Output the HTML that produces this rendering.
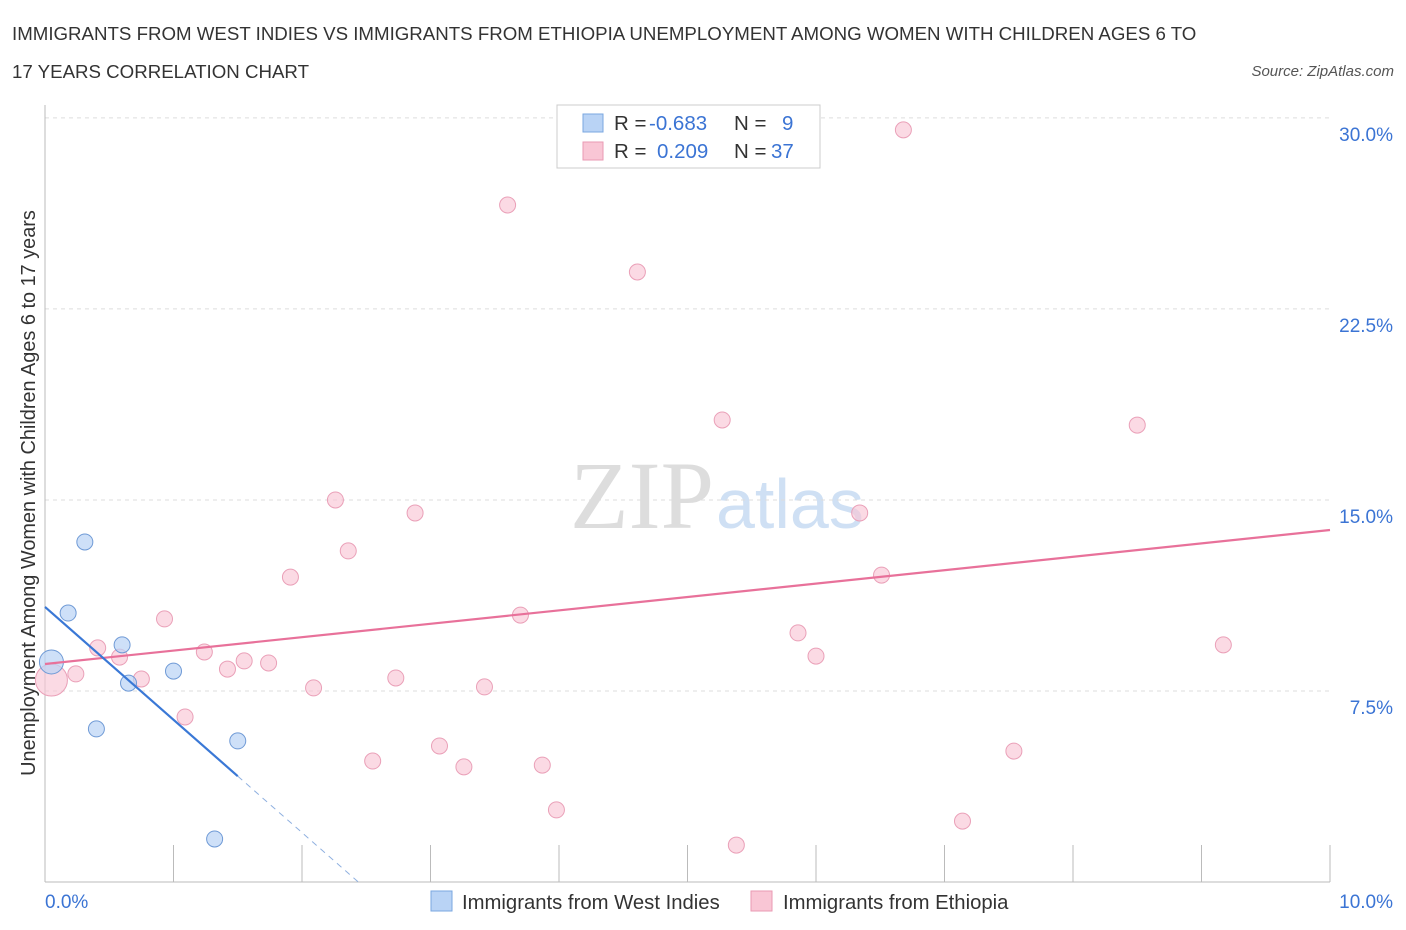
<!DOCTYPE html>
<html><head><meta charset="utf-8"><style>
body{margin:0;background:#fff;font-family:"Liberation Sans",sans-serif;}
svg{display:block}
</style></head><body>
<svg width="1406" height="930">
<text x="12" y="40" font-size="18.7" fill="#333">IMMIGRANTS FROM WEST INDIES VS IMMIGRANTS FROM ETHIOPIA UNEMPLOYMENT AMONG WOMEN WITH CHILDREN AGES 6 TO</text>
<text x="12" y="78" font-size="18.7" fill="#333">17 YEARS CORRELATION CHART</text>
<text x="1394" y="76" font-size="15" fill="#555" font-style="italic" text-anchor="end">Source: ZipAtlas.com</text>
<text x="35" y="493" font-size="19.9" fill="#333" text-anchor="middle" transform="rotate(-90 35 493)">Unemployment Among Women with Children Ages 6 to 17 years</text>
<text x="714" y="528" font-size="96" fill="#ddd" text-anchor="end" font-family="Liberation Serif,serif">ZIP</text>
<text x="716" y="528" font-size="70" fill="#cfe0f4">atlas</text>
<g id="grid"></g><g id="axes"></g><g id="marks"></g>
<g>
<rect x="557" y="105" width="263" height="63" fill="#fff" stroke="#ccc"/>
<rect x="583" y="114" width="20" height="18" fill="#b9d3f5" stroke="#7aa7e0"/>
<rect x="583" y="142" width="20" height="18" fill="#f9c6d5" stroke="#e99ab3"/>
<text x="614" y="130" font-size="20.5" fill="#333">R = <tspan x="649" fill="#3b74d4">-0.683</tspan><tspan x="734">N = </tspan><tspan x="782" fill="#3b74d4">9</tspan></text>
<text x="614" y="158" font-size="20.5" fill="#333">R = <tspan x="657" fill="#3b74d4">0.209</tspan><tspan x="734">N = </tspan><tspan x="771" fill="#3b74d4">37</tspan></text>
</g>
<g>
<rect x="431" y="891" width="21" height="20" fill="#b9d3f5" stroke="#7aa7e0"/>
<text x="462" y="909" font-size="20.3" fill="#333">Immigrants from West Indies</text>
<rect x="751" y="891" width="21" height="20" fill="#f9c6d5" stroke="#e99ab3"/>
<text x="783" y="909" font-size="20.3" fill="#333">Immigrants from Ethiopia</text>
</g>
</svg>
<script>
const blueX=[0.05,0.18,0.31,0.40,0.60,0.65,1.00,1.50,1.32];
const blueY=[8.64,10.56,13.35,6.01,9.31,7.81,8.28,5.54,1.69];
const pinkX=[0.05,0.24,0.41,0.58,0.75,0.93,1.09,1.24,1.42,1.55,1.74,1.91,2.09,2.26,2.36,2.55,2.73,2.88,3.07,3.26,3.42,3.60,3.70,3.87,3.98,4.61,5.27,5.38,5.86,6.00,6.34,6.51,6.68,7.14,7.54,8.50,9.17];
const pinkY=[7.93,8.17,9.19,8.83,7.97,10.33,6.48,9.03,8.36,8.68,8.60,11.97,7.62,15.0,13.0,4.75,8.01,14.49,5.34,4.52,7.66,26.58,10.48,4.59,2.83,23.95,18.14,1.45,9.78,8.87,14.49,12.05,29.53,2.39,5.14,17.94,9.31];
const yTicks=[7.5,15,22.5,30];
const xTickLabels=["0.0%","10.0%"];
const blueFit=[10.8,-4.43];
const pinkFit=[8.56,0.526];
const NS="http://www.w3.org/2000/svg";
const sx=v=>45+v*128.5, sy=v=>882-v*25.47;
function mk(p,t,a){const e=document.createElementNS(NS,t);for(const k in a)e.setAttribute(k,a[k]);document.getElementById(p).appendChild(e);return e;}
yTicks.forEach(v=>{
 const l=mk('grid','line',{x1:45,x2:1330,y1:sy(v),y2:sy(v),stroke:'#ddd','stroke-dasharray':'4,4'});
 
 
 const t=mk('grid','text',{x:1393,y:sy(v)+23,'font-size':19,fill:'#3b74d4','text-anchor':'end'});t.textContent=v.toFixed(1)+'%';
 
 
});
const ax=mk('axes','line',{x1:45,x2:45,y1:105,y2:882,stroke:'#bbb'});


const bx=mk('axes','line',{x1:45,x2:1330,y1:882,y2:882,stroke:'#bbb'});


for(let i=0;i<=10;i++){const t=mk('axes','line',{x1:sx(i),x2:sx(i),y1:845,y2:882,stroke:'#bbb'});
 
 }
const xl0=mk('axes','text',{x:45,y:908,'font-size':19,fill:'#3b74d4'});xl0.textContent=xTickLabels[0];


const xl1=mk('axes','text',{x:1393,y:908,'font-size':19,fill:'#3b74d4','text-anchor':'end'});xl1.textContent=xTickLabels[1];


pinkX.forEach((x,i)=>{const c=mk('marks','circle',{cx:sx(x),cy:sy(pinkY[i]),r:i==0?16:8,fill:'#f9c6d5','fill-opacity':0.65,stroke:'#eaa0b8'});
 
 });
blueX.forEach((x,i)=>{const c=mk('marks','circle',{cx:sx(x),cy:sy(blueY[i]),r:i==0?12:8,fill:'#b9d3f5','fill-opacity':0.7,stroke:'#6f9ad6'});
 
 });
const pl=mk('marks','line',{x1:sx(0),y1:sy(pinkFit[0]),x2:sx(10),y2:sy(pinkFit[0]+pinkFit[1]*10),stroke:'#e8719a','stroke-width':2.2});


const bEnd=1.5, bZero=-blueFit[0]/blueFit[1];
const bl=mk('marks','line',{x1:sx(0),y1:sy(blueFit[0]),x2:sx(bEnd),y2:sy(blueFit[0]+blueFit[1]*bEnd),stroke:'#3a78d6','stroke-width':2.2});


const bd=mk('marks','line',{x1:sx(bEnd),y1:sy(blueFit[0]+blueFit[1]*bEnd),x2:sx(bZero),y2:sy(0),stroke:'#8fb0e0','stroke-width':1,'stroke-dasharray':'6,5'});


</script>
</body></html>
